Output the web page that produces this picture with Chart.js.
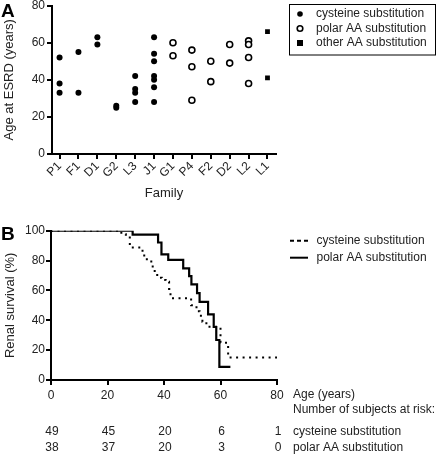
<!DOCTYPE html>
<html>
<head>
<meta charset="utf-8">
<script src="https://cdn.jsdelivr.net/npm/chart.js@4/dist/chart.umd.min.js"></script>
<style>
  html, body { margin: 0; padding: 0; background: #fff; }
  .box { position: absolute; left: 0; width: 437px; }
</style>
</head>
<body>
<div class="box" style="top:0;height:215px"><canvas id="chartA"></canvas></div>
<div class="box" style="top:215px;height:239px"><canvas id="chartB"></canvas></div>
<script>
// panel A: age at ESRD per family
const families = ['P1', 'F1', 'D1', 'G2', 'L3', 'J1', 'G1', 'P4', 'F2', 'D2', 'L2', 'L1'];
const ageTicks = [0, 20, 40, 60, 80];

const cysFam = ['P1', 'P1', 'P1', 'F1', 'F1', 'D1', 'D1', 'G2', 'G2', 'L3', 'L3', 'L3', 'L3',
                'J1', 'J1', 'J1', 'J1', 'J1', 'J1', 'J1'];
const cysAge = [52, 38, 33, 55, 33, 63, 59, 26, 25, 42, 35, 33, 28,
                63, 54, 50, 42, 40, 36, 28];
const polarFam = ['G1', 'G1', 'P4', 'P4', 'P4', 'F2', 'F2', 'D2', 'D2', 'L2', 'L2', 'L2', 'L2'];
const polarAge = [60, 53, 56, 47, 29, 50, 39, 59, 49, 61, 59, 52, 38];
const otherFam = ['L1', 'L1'];
const otherAge = [66, 41];

// panel B: renal survival (Kaplan-Meier steps)
const cysKmAge  = [0, 24.9, 26.5, 27.9, 32.4, 33, 35.5, 36, 37.6, 39.2, 40.6, 41.8, 42.3, 49.6, 51.5, 52.6, 53.6, 55, 60, 62.7, 80];
const cysKmSurv = [100, 97.6, 95.5, 88.8, 85.3, 80.8, 77, 73, 68.5, 67, 65.8, 61, 54.8, 50, 46, 43, 39, 35.7, 25, 15, 15];
const polarKmAge  = [0, 28.9, 37.9, 39.1, 41.5, 46.8, 48.9, 49.7, 51.7, 52.6, 55.6, 57.6, 58.5, 59.6, 63.5];
const polarKmSurv = [100, 97.4, 92.1, 84.2, 80.4, 74.8, 69.6, 64, 58.2, 52.3, 44, 35.5, 26.8, 8.8, 8.8];
const survTicks = [0, 20, 40, 60, 80, 100];

const riskAges = [0, 20, 40, 60, 80];
const cysRisk = [49, 45, 20, 6, 1];
const polarRisk = [38, 37, 20, 3, 0];

const FONT = "'Liberation Sans', Arial, sans-serif";
const TXT = '#222';
Chart.defaults.font.family = FONT;
Chart.defaults.color = TXT;

function famData(names, ages) {
  return names.map((f, i) => ({ x: families.indexOf(f) + 1, y: ages[i] }));
}
function kmData(ages, surv) {
  return ages.map((a, i) => ({ x: a, y: surv[i] }));
}
function zeroPad(s) {
  s.paddingLeft = 0; s.paddingRight = 0; s.paddingTop = 0; s.paddingBottom = 0;
}
const axisGrid = { drawOnChartArea: false, drawTicks: true, tickLength: 5, color: '#000', lineWidth: 2 };
const axisBorder = { color: '#000', width: 2 };

function letter(ch, y) {
  return {
    id: 'letter' + ch,
    afterDraw(chart) {
      const c = chart.ctx;
      c.save();
      c.font = 'bold 19px ' + FONT;
      c.fillStyle = '#000';
      c.textBaseline = 'alphabetic';
      c.fillText(ch, 1, y);
      c.restore();
    }
  };
}

const legendA = {
  id: 'legendA',
  afterDraw(chart) {
    const c = chart.ctx;
    c.save();
    c.strokeStyle = '#000';
    c.lineWidth = 1;
    c.strokeRect(289.5, 4.5, 146, 50.5);
    c.font = '12px ' + FONT;
    c.fillStyle = TXT;
    c.textBaseline = 'middle';
    const rows = [14, 28.5, 43];
    chart.data.datasets.forEach((ds, i) => {
      const y = rows[i];
      c.save();
      c.fillStyle = ds.backgroundColor;
      c.strokeStyle = ds.borderColor;
      c.lineWidth = ds.borderWidth;
      c.beginPath();
      if (ds.pointStyle === 'rect') {
        c.rect(297, y - 3, 6, 6);
      } else {
        c.arc(300, y, 2.8, 0, Math.PI * 2);
      }
      c.fill();
      if (ds.borderWidth) c.stroke();
      c.restore();
      c.fillText(ds.label, 316, y);
    });
    c.restore();
  }
};

new Chart(document.getElementById('chartA'), {
  type: 'scatter',
  data: {
    datasets: [
      { label: 'cysteine substitution', data: famData(cysFam, cysAge), pointStyle: 'circle',
        pointRadius: 3, backgroundColor: '#000', borderColor: '#000', borderWidth: 0 },
      { label: 'polar AA substitution', data: famData(polarFam, polarAge), pointStyle: 'circle',
        pointRadius: 3, backgroundColor: '#fff', borderColor: '#000', borderWidth: 1.6 },
      { label: 'other AA substitution', data: famData(otherFam, otherAge), pointStyle: 'rect',
        pointRadius: 3.4, backgroundColor: '#000', borderColor: '#000', borderWidth: 0 }
    ]
  },
  options: {
    responsive: true,
    maintainAspectRatio: false,
    animation: false,
    layout: { padding: { left: 0, right: 161, top: 4.5, bottom: 0 } },
    plugins: { legend: { display: false }, tooltip: { enabled: false } },
    scales: {
      x: {
        type: 'linear', min: 0.6, max: 12.45,
        afterBuildTicks: s => { s.ticks = families.map((f, i) => ({ value: i + 1 })); },
        ticks: { callback: v => families[v - 1], minRotation: 45, maxRotation: 45, autoSkip: false,
                 padding: 0, font: { size: 12 }, color: TXT },
        grid: axisGrid,
        border: axisBorder,
        title: { display: true, text: 'Family', font: { size: 13 }, color: TXT, padding: { top: 0, bottom: 14 } },
        afterFit: s => { s.height = 61; zeroPad(s); }
      },
      y: {
        min: 0, max: 80,
        afterBuildTicks: s => { s.ticks = ageTicks.map(v => ({ value: v })); },
        ticks: { padding: 2, font: { size: 12 }, color: TXT },
        grid: axisGrid,
        border: axisBorder,
        title: { display: true, text: 'Age at ESRD (years)', font: { size: 13 }, color: TXT, padding: { top: 2, bottom: 0 } },
        afterFit: s => { s.width = 52; zeroPad(s); }
      }
    }
  },
  plugins: [legendA, letter('A', 17)]
});

const legendB = {
  id: 'legendB',
  afterDraw(chart) {
    const c = chart.ctx;
    c.save();
    c.font = '12px ' + FONT;
    c.fillStyle = TXT;
    c.textBaseline = 'middle';
    const rows = [25.7, 42.7];
    chart.data.datasets.forEach((ds, i) => {
      const y = rows[i];
      c.save();
      c.strokeStyle = '#000';
      c.lineWidth = 2;
      c.setLineDash(ds.borderDash ? [4, 3] : []);
      c.beginPath();
      c.moveTo(290, y);
      c.lineTo(308, y);
      c.stroke();
      c.restore();
      c.fillText(ds.label, 316.5, y);
    });

    // at-risk table, aligned with the x scale
    const xs = chart.scales.x;
    c.textAlign = 'left';
    c.fillText('Age (years)', 293, 180);
    c.fillText('Number of subjects at risk:', 293, 194.3);
    c.fillText(chart.data.datasets[0].label, 293, 216.7);
    c.fillText(chart.data.datasets[1].label, 293, 232.7);
    c.textAlign = 'center';
    riskAges.forEach((a, i) => {
      const x = xs.getPixelForValue(a) + 1;
      c.fillText(String(cysRisk[i]), x, 216.7);
      c.fillText(String(polarRisk[i]), x, 232.7);
    });
    c.restore();
  }
};

new Chart(document.getElementById('chartB'), {
  type: 'line',
  data: {
    datasets: [
      { label: 'cysteine substitution', data: kmData(cysKmAge, cysKmSurv), stepped: 'before',
        borderColor: '#000', borderWidth: 2, borderDash: [2, 4.5], pointRadius: 0, fill: false },
      { label: 'polar AA substitution', data: kmData(polarKmAge, polarKmSurv), stepped: 'before',
        borderColor: '#000', borderWidth: 2.2, pointRadius: 0, fill: false }
    ]
  },
  options: {
    responsive: true,
    maintainAspectRatio: false,
    animation: false,
    layout: { padding: { left: 0, right: 160, top: 15.7, bottom: 0 } },
    plugins: { legend: { display: false }, tooltip: { enabled: false } },
    scales: {
      x: {
        type: 'linear', min: 0, max: 80,
        afterBuildTicks: s => { s.ticks = riskAges.map(v => ({ value: v })); },
        ticks: { padding: 3, font: { size: 12 }, color: TXT, maxRotation: 0 },
        grid: axisGrid,
        border: axisBorder,
        afterFit: s => { s.height = 74; zeroPad(s); }
      },
      y: {
        min: 0, max: 100,
        afterBuildTicks: s => { s.ticks = survTicks.map(v => ({ value: v })); },
        ticks: { padding: 1, font: { size: 12 }, color: TXT },
        grid: axisGrid,
        border: axisBorder,
        title: { display: true, text: 'Renal survival (%)', font: { size: 13 }, color: TXT, padding: { top: 3, bottom: 0 } },
        afterFit: s => { s.width = 51; zeroPad(s); }
      }
    }
  },
  plugins: [legendB, letter('B', 25)]
});
</script>
</body>
</html>
